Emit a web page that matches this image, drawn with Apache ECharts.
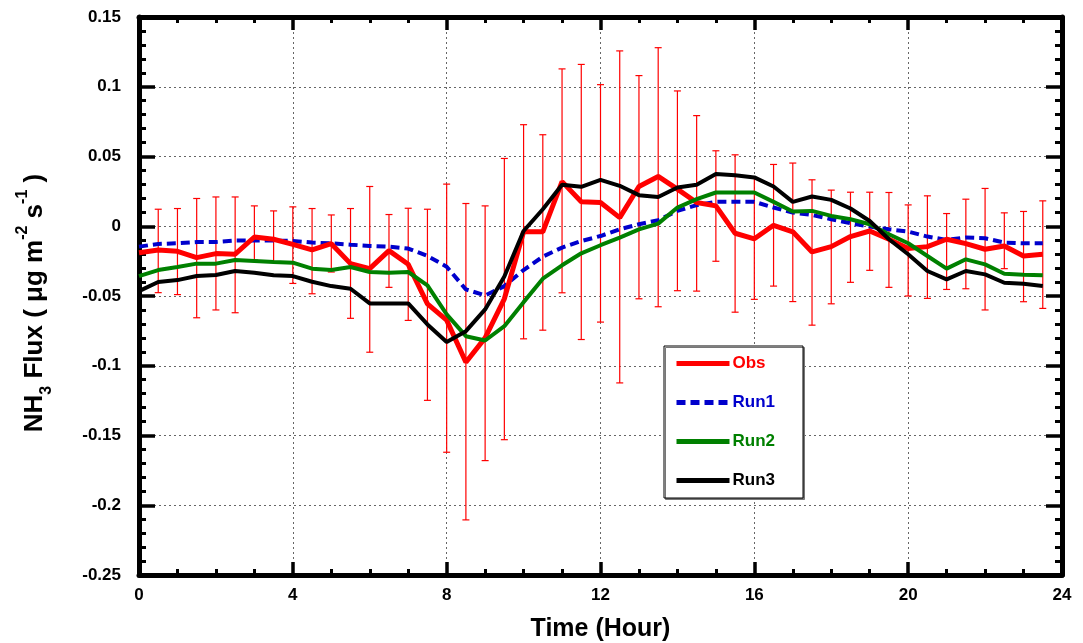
<!DOCTYPE html>
<html>
<head>
<meta charset="utf-8">
<script src="https://cdn.jsdelivr.net/npm/echarts@6/dist/echarts.min.js"></script>
<style>
html,body{margin:0;padding:0;background:#fff;}
#chart{width:1083px;height:643px;}
</style>
</head>
<body>
<div id="chart"></div>
<script>
const hours = [0,0.5,1,1.5,2,2.5,3,3.5,4,4.5,5,5.5,6,6.5,7,7.5,8,8.5,9,9.5,10,10.5,11,11.5,12,12.5,13,13.5,14,14.5,15,15.5,16,16.5,17,17.5,18,18.5,19,19.5,20,20.5,21,21.5,22,22.5,23,23.5];
const obs = [-0.019,-0.017,-0.018,-0.0225,-0.0196,-0.020,-0.0077,-0.0093,-0.013,-0.017,-0.0125,-0.0268,-0.0304,-0.0175,-0.0273,-0.0556,-0.0673,-0.0975,-0.080,-0.052,-0.004,-0.004,0.032,0.0175,0.017,0.0062,0.0285,0.0357,0.0266,0.017,0.0146,-0.005,-0.009,0.0007,-0.004,-0.0184,-0.0146,-0.0074,-0.0034,-0.0093,-0.016,-0.0146,-0.0093,-0.0125,-0.0165,-0.0141,-0.0213,-0.020];
const obsHigh = [null,0.0122,0.0127,0.0199,0.021,0.021,0.0146,0.011,0.0139,0.0127,0.0081,0.0127,0.0285,0.0084,0.0129,0.0122,0.0302,0.0163,0.0146,0.0486,0.0728,0.0656,0.1128,0.116,0.1015,0.1257,0.108,0.128,0.097,0.0793,0.0541,0.0512,0.0344,0.0443,0.0453,0.0333,0.0259,0.0244,0.0244,0.0242,0.0153,0.0218,0.0091,0.0194,0.0271,0.0096,0.0106,0.0182];
const obsLow = [null,-0.0476,-0.049,-0.0656,-0.060,-0.062,-0.0242,-0.0256,-0.041,-0.0484,-0.0328,-0.066,-0.0903,-0.0438,-0.0675,-0.1248,-0.162,-0.2105,-0.168,-0.153,-0.0807,-0.0745,-0.0477,-0.0812,-0.0687,-0.1123,-0.052,-0.0577,-0.0462,-0.0465,-0.0251,-0.0616,-0.0524,-0.0429,-0.054,-0.0709,-0.0556,-0.0402,-0.0316,-0.0438,-0.050,-0.0517,-0.0453,-0.0448,-0.060,-0.0304,-0.0541,-0.0589];
const run1 = [-0.0146,-0.0127,-0.0122,-0.0113,-0.0113,-0.0103,-0.0103,-0.0103,-0.0105,-0.0117,-0.0122,-0.0132,-0.0141,-0.0146,-0.016,-0.0213,-0.029,-0.0453,-0.0496,-0.0429,-0.0314,-0.0218,-0.0153,-0.0106,-0.007,-0.0022,0.0014,0.0043,0.011,0.0151,0.0175,0.0175,0.0175,0.0134,0.0098,0.0081,0.005,0.0022,-0.0002,-0.0022,-0.0038,-0.0074,-0.0098,-0.0081,-0.0086,-0.0117,-0.0122,-0.0122];
const run2 = [-0.0357,-0.0314,-0.0292,-0.0268,-0.0268,-0.0242,-0.0249,-0.0256,-0.0261,-0.0304,-0.0314,-0.0292,-0.0328,-0.0333,-0.0328,-0.0424,-0.0632,-0.0788,-0.0819,-0.0716,-0.0544,-0.0376,-0.028,-0.0194,-0.0136,-0.0081,-0.0022,0.0019,0.0134,0.0194,0.0242,0.0242,0.0242,0.0175,0.0106,0.011,0.0074,0.005,0.0014,-0.0057,-0.0122,-0.0213,-0.0304,-0.0237,-0.0273,-0.034,-0.0347,-0.0352];
const run3 = [-0.0465,-0.04,-0.0386,-0.0357,-0.035,-0.0321,-0.0333,-0.0352,-0.0357,-0.0398,-0.0429,-0.0448,-0.0553,-0.0553,-0.0553,-0.0704,-0.0829,-0.0752,-0.0596,-0.036,-0.0034,0.0122,0.0297,0.0283,0.0333,0.029,0.0223,0.021,0.0278,0.0297,0.0374,0.0366,0.035,0.0285,0.0175,0.0213,0.0189,0.0127,0.0038,-0.0093,-0.0201,-0.0321,-0.0381,-0.0321,-0.0345,-0.0405,-0.0412,-0.0429];
const seriesNames = ['Obs','Run1','Run2','Run3'];
const seriesColors = ['#ff0000','#0000cc','#008000','#000000'];

const pairs = arr => hours.map((h, i) => [h, arr[i]]);
const errData = [];
hours.forEach((h, i) => { if (obsLow[i] !== null) errData.push([h, obsLow[i], obsHigh[i]]); });

const FONT = 'Liberation Sans, Arial, sans-serif';
const gridLine = { show: true, lineStyle: { color: '#666', width: 1, type: [2, 3] } };

const chart = echarts.init(document.getElementById('chart'), null, { renderer: 'canvas' });
chart.setOption({
  animation: false,
  backgroundColor: '#fff',
  grid: { left: 139, right: 21, top: 17, bottom: 68, containLabel: false, outerBoundsMode: 'none' },
  legend: {
    orient: 'vertical', left: 664, top: 346,
    padding: [9, 28, 9, 10], itemGap: 22, itemWidth: 53, itemHeight: 16,
    backgroundColor: '#fff', borderColor: '#000', borderWidth: 1,
    shadowColor: '#777', shadowOffsetX: 1.5, shadowOffsetY: 1.5, shadowBlur: 0,
    itemStyle: { opacity: 0 },
    lineStyle: { width: 5 },
    textStyle: { fontFamily: FONT, fontWeight: 'bold', fontSize: 17, lineHeight: 16, padding: [0, 0, 0, -2] },
    data: seriesNames.map((n, i) => ({ name: n, textStyle: { color: seriesColors[i] } }))
  },
  xAxis: [{
    type: 'value', min: 0, max: 24, interval: 4, position: 'bottom',
    axisLine: { show: true, onZero: false, lineStyle: { color: '#000', width: 5 } },
    axisTick: { show: true, inside: true, length: 13, lineStyle: { width: 3.5, color: '#000' } },
    minorTick: { show: true, splitNumber: 4, length: 6, lineStyle: { width: 3, color: '#000' } },
    splitLine: gridLine,
    axisLabel: { margin: 12, fontFamily: FONT, fontWeight: 'bold', fontSize: 17, color: '#000' },
    name: 'Time (Hour)', nameLocation: 'middle', nameGap: 42,
    nameTextStyle: { fontFamily: FONT, fontWeight: 'bold', fontSize: 25, color: '#000' }
  }, {
    type: 'value', min: 0, max: 24, interval: 4, position: 'top',
    axisLine: { show: true, onZero: false, lineStyle: { color: '#000', width: 5 } },
    axisTick: { show: true, inside: true, length: 13, lineStyle: { width: 3.5, color: '#000' } },
    minorTick: { show: true, splitNumber: 4, length: 6, lineStyle: { width: 3, color: '#000' } },
    splitLine: { show: false }, axisLabel: { show: false }
  }],
  yAxis: [{
    type: 'value', min: -0.25, max: 0.15, interval: 0.05, position: 'left',
    axisLine: { show: true, onZero: false, lineStyle: { color: '#000', width: 5 } },
    axisTick: { show: true, inside: true, length: 16, lineStyle: { width: 3.5, color: '#000' } },
    minorTick: { show: true, splitNumber: 5, length: 7, lineStyle: { width: 3, color: '#000' } },
    splitLine: gridLine,
    axisLabel: { margin: 18, fontFamily: FONT, fontWeight: 'bold', fontSize: 17, color: '#000',
      formatter: v => String(Math.round(v * 100) / 100) },
    name: '{m|NH}{sub|3}{m| Flux ( μg m}{sup|-2}{m| s}{sup|-1}{m| )}',
    nameLocation: 'middle', nameGap: 84, nameRotate: 90,
    nameTextStyle: {
      color: '#000',
      padding: [0, 14, 0, 0],
      rich: {
        m: { fontFamily: FONT, fontWeight: 'bold', fontSize: 26, lineHeight: 40, color: '#000' },
        sub: { fontFamily: FONT, fontWeight: 'bold', fontSize: 16, lineHeight: 16, verticalAlign: 'bottom', color: '#000' },
        sup: { fontFamily: FONT, fontWeight: 'bold', fontSize: 16, lineHeight: 16, verticalAlign: 'top', color: '#000' }
      }
    }
  }, {
    type: 'value', min: -0.25, max: 0.15, interval: 0.05, position: 'right',
    axisLine: { show: true, onZero: false, lineStyle: { color: '#000', width: 5 } },
    axisTick: { show: true, inside: true, length: 16, lineStyle: { width: 3.5, color: '#000' } },
    minorTick: { show: true, splitNumber: 5, length: 7, lineStyle: { width: 3, color: '#000' } },
    splitLine: { show: false }, axisLabel: { show: false }
  }],
  series: [
    {
      type: 'custom', name: 'ObsErr', xAxisIndex: 0, yAxisIndex: 0, data: errData, z: 1, silent: true,
      renderItem: (params, api) => {
        const x = api.value(0);
        const pLo = api.coord([x, api.value(1)]);
        const pHi = api.coord([x, api.value(2)]);
        const w = 3.5;
        const st = { stroke: '#ff0000', lineWidth: 1.2 };
        return { type: 'group', children: [
          { type: 'line', shape: { x1: pHi[0], y1: pHi[1], x2: pLo[0], y2: pLo[1] }, style: st },
          { type: 'line', shape: { x1: pHi[0] - w, y1: pHi[1], x2: pHi[0] + w, y2: pHi[1] }, style: st },
          { type: 'line', shape: { x1: pLo[0] - w, y1: pLo[1], x2: pLo[0] + w, y2: pLo[1] }, style: st }
        ] };
      }
    },
    { type: 'line', name: 'Run1', data: pairs(run1), symbol: 'none', z: 2, color: seriesColors[1],
      lineStyle: { color: seriesColors[1], width: 4, type: [9, 5] } },
    { type: 'line', name: 'Obs', data: pairs(obs), symbol: 'none', z: 3, color: seriesColors[0],
      lineStyle: { color: seriesColors[0], width: 5 } },
    { type: 'line', name: 'Run2', data: pairs(run2), symbol: 'none', z: 4, color: seriesColors[2],
      lineStyle: { color: seriesColors[2], width: 4 } },
    { type: 'line', name: 'Run3', data: pairs(run3), symbol: 'none', z: 5, color: seriesColors[3],
      lineStyle: { color: seriesColors[3], width: 4 } }
  ]
});
</script>
</body>
</html>
